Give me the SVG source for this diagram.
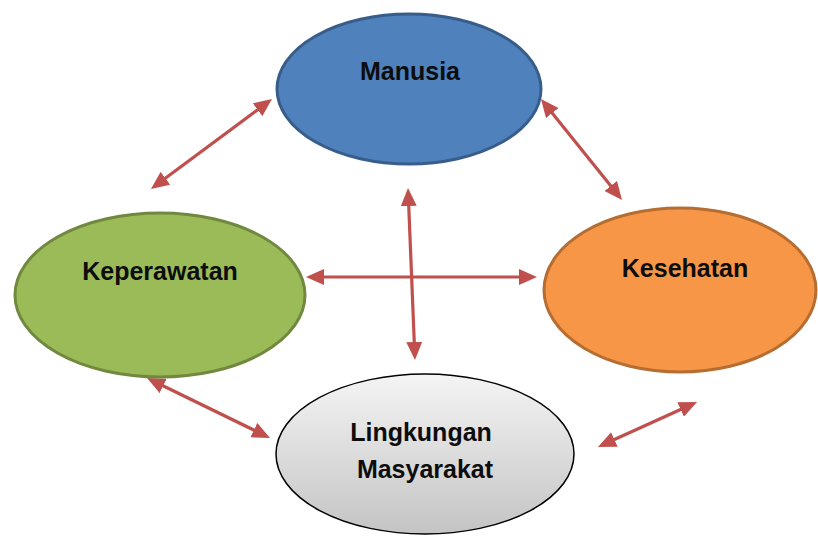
<svg xmlns="http://www.w3.org/2000/svg" width="818" height="538" viewBox="0 0 818 538">
  <style>
    .lbl { font-family: "Liberation Sans", Arial, sans-serif; font-weight: bold; font-size: 25px; fill: #0d0d0d; text-anchor: middle; }
    .conn { stroke: #c0504d; stroke-width: 3.2; fill: none; marker-start: url(#ah); marker-end: url(#ah); }
  </style>
  <defs>
    <marker id="ah" viewBox="0 0 18 16" refX="6" refY="8" markerWidth="18" markerHeight="16" markerUnits="userSpaceOnUse" orient="auto-start-reverse">
      <path d="M0,0 L18,8 L0,16 z" fill="#c0504d"/>
    </marker>
    <linearGradient id="grayGrad" x1="0" y1="0" x2="0" y2="1">
      <stop offset="0" stop-color="#f4f4f4"/>
      <stop offset="1" stop-color="#c4c4c4"/>
    </linearGradient>
  </defs>
  <rect width="818" height="538" fill="#ffffff"/>

  <g id="connectors">
    <line class="conn" x1="160.6" y1="181.8" x2="262.4" y2="106.2"/>
    <line class="conn" x1="548.5" y1="108.4" x2="614.5" y2="190.6"/>
    <line class="conn" x1="318" y1="277" x2="525" y2="277"/>
    <line class="conn" x1="408.5" y1="200" x2="414.5" y2="348"/>
    <line class="conn" x1="157.8" y1="383.3" x2="259.2" y2="432.7"/>
    <line class="conn" x1="608.9" y1="442" x2="686.1" y2="407"/>
  </g>

  <g id="manusia">
    <ellipse cx="409" cy="89" rx="132" ry="75" fill="#4f81bd" stroke="#385d8a" stroke-width="3"/>
    <text class="lbl" x="410" y="80">Manusia</text>
  </g>

  <g id="keperawatan">
    <ellipse cx="160" cy="295" rx="145" ry="82" fill="#9bbb59" stroke="#71893f" stroke-width="3"/>
    <text class="lbl" x="160" y="280">Keperawatan</text>
  </g>

  <g id="kesehatan">
    <ellipse cx="680" cy="290" rx="136" ry="82" fill="#f79646" stroke="#b66d31" stroke-width="3"/>
    <text class="lbl" x="685" y="277">Kesehatan</text>
  </g>

  <g id="lingkungan">
    <ellipse cx="425" cy="454" rx="149" ry="80" fill="url(#grayGrad)" stroke="#000000" stroke-width="1.5"/>
    <text class="lbl" x="421" y="441">Lingkungan</text>
    <text class="lbl" x="425" y="478">Masyarakat</text>
  </g>
</svg>
